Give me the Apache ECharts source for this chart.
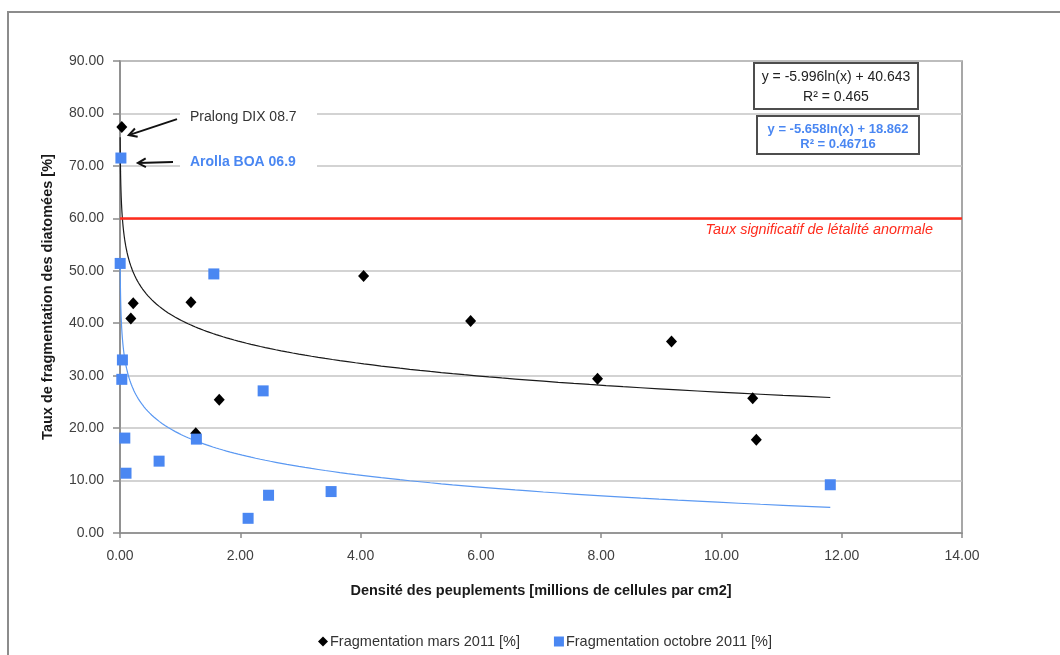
<!DOCTYPE html>
<html>
<head>
<meta charset="utf-8">
<script src="https://cdn.jsdelivr.net/npm/echarts@6/dist/echarts.min.js"></script>
<style>
  html, body { margin: 0; padding: 0; background: #ffffff; }
  #chart { width: 1060px; height: 655px; }
</style>
</head>
<body>
<div id="chart"></div>
<script>
// Fragmentation des diatomées vs densité des peuplements
const marsName = 'Fragmentation mars 2011 [%]';
const octName = 'Fragmentation octobre 2011 [%]';

// Mars 2011 (first point: Pralong DIX 08.7)
const marsX = [0.03, 0.18, 0.22, 1.18, 1.26, 1.65, 4.05, 5.83, 7.94, 9.17, 10.52, 10.58];
const marsY = [77.4, 40.9, 43.8, 44.0, 19.0, 25.4, 49.0, 40.4, 29.4, 36.5, 25.7, 17.8];

// Octobre 2011 (first point: Arolla BOA 06.9)
const octX = [0.015, 0.003, 1.56, 0.04, 0.03, 2.38, 0.08, 1.27, 0.65, 0.10, 2.47, 2.13, 3.51, 11.81];
const octY = [71.5, 51.4, 49.4, 33.0, 29.3, 27.1, 18.1, 17.9, 13.7, 11.4, 7.2, 2.8, 7.9, 9.2];

// Logarithmic fits y = a*ln(x) + b, as printed in the equation boxes
const marsFit = { a: -5.996, b: 40.643, r2: '0.465' };
const octFit = { a: -5.658, b: 18.862, r2: '0.46716' };

const threshold = 60;
const thresholdLabel = 'Taux significatif de létalité anormale';
const xTicks = [0, 2, 4, 6, 8, 10, 12, 14];
const yTicks = [0, 10, 20, 30, 40, 50, 60, 70, 80, 90];

const FONT = "'Liberation Sans', Arial, sans-serif";
const BLUE = '#4a87f2';

function fitCurve(fit, xs) {
  const lo = Math.min.apply(null, xs), hi = Math.max.apply(null, xs);
  const pts = [];
  const n = 240;
  for (let i = 0; i <= n; i++) {
    const x = Math.exp(Math.log(lo) + (Math.log(hi) - Math.log(lo)) * i / n);
    pts.push([x, fit.a * Math.log(x) + fit.b]);
  }
  return pts;
}
const allX = marsX.concat(octX);
const pair = (xs, ys) => xs.map((x, i) => [x, ys[i]]);

const chart = echarts.init(document.getElementById('chart'), null, { renderer: 'canvas' });

const option = {
  backgroundColor: '#ffffff',
  animation: false,
  textStyle: { fontFamily: FONT },
  grid: {
    left: 120, right: 98, top: 61, bottom: 122,
    show: true, borderColor: '#8a8a8a', borderWidth: 1.5, backgroundColor: 'transparent'
  },
  xAxis: {
    type: 'value', min: xTicks[0], max: xTicks[xTicks.length - 1], interval: 2,
    name: 'Densité des peuplements [millions de cellules par cm2]',
    nameLocation: 'middle', nameGap: 50,
    nameTextStyle: { fontFamily: FONT, fontSize: 14.5, fontWeight: 'bold', color: '#1a1a1a' },
    axisLine: { show: true, lineStyle: { color: '#8a8a8a', width: 1.5 } },
    axisTick: { show: true, length: 5, lineStyle: { color: '#8a8a8a', width: 1.5 } },
    axisLabel: { margin: 16, fontSize: 14, color: '#404040', fontFamily: FONT,
                 formatter: v => v.toFixed(2) },
    splitLine: { show: false }
  },
  yAxis: {
    type: 'value', min: yTicks[0], max: yTicks[yTicks.length - 1], interval: 10,
    name: 'Taux de fragmentation des diatomées [%]',
    nameLocation: 'middle', nameGap: 65,
    nameTextStyle: { fontFamily: FONT, fontSize: 14.5, fontWeight: 'bold', color: '#1a1a1a' },
    axisLine: { show: true, lineStyle: { color: '#8a8a8a', width: 1.5 } },
    axisTick: { show: true, length: 7, lineStyle: { color: '#8a8a8a', width: 1.5 } },
    axisLabel: { margin: 16, fontSize: 14, color: '#404040', fontFamily: FONT,
                 formatter: v => v.toFixed(2) },
    splitLine: { show: true, lineStyle: { color: '#c4c4c4', width: 1.5 } }
  },
  legend: {
    left: 313, top: 629,
    itemWidth: 10, itemHeight: 10, itemGap: 34,
    textStyle: { fontFamily: FONT, fontSize: 14.5, color: '#333333', padding: [0, 0, 0, -3] },
    data: [
      { name: marsName, icon: 'diamond', itemStyle: { color: '#000000', opacity: 1 } },
      { name: octName, icon: 'rect', itemStyle: { color: BLUE, opacity: 1 } }
    ]
  },
  series: [
    {
      name: 'Tendance mars', type: 'line', data: fitCurve(marsFit, allX),
      showSymbol: false, symbol: 'none', smooth: false, silent: true, z: 3,
      lineStyle: { color: '#1a1a1a', width: 1.2 }
    },
    {
      name: 'Tendance octobre', type: 'line', data: fitCurve(octFit, allX),
      showSymbol: false, symbol: 'none', smooth: false, silent: true, z: 3,
      lineStyle: { color: '#5a98f2', width: 1.2 }
    },
    {
      name: marsName, type: 'scatter', data: pair(marsX, marsY),
      symbol: 'diamond', symbolSize: [11, 12], z: 4,
      itemStyle: { color: '#000000', opacity: 1 },
      markLine: {
        silent: true, symbol: 'none', animation: false,
        label: { show: false },
        lineStyle: { color: '#ff2b1c', width: 2.5, type: 'solid' },
        data: [{ yAxis: threshold }]
      }
    },
    {
      name: octName, type: 'scatter', data: pair(octX, octY),
      symbol: 'rect', symbolSize: 11, z: 5,
      itemStyle: { color: BLUE, opacity: 1 }
    }
  ]
};
chart.setOption(option);

// Annotations: outer frame, pointer arrows, threshold caption, equation boxes
function arrow(from, to, color) {
  const ang = Math.atan2(to[1] - from[1], to[0] - from[0]);
  const len = 9, spread = 0.5;
  const p1 = [to[0] - len * Math.cos(ang - spread), to[1] - len * Math.sin(ang - spread)];
  const p2 = [to[0] - len * Math.cos(ang + spread), to[1] - len * Math.sin(ang + spread)];
  return [
    { type: 'line', shape: { x1: from[0], y1: from[1], x2: to[0], y2: to[1] },
      style: { stroke: color, lineWidth: 2 }, z: 20 },
    { type: 'polyline', shape: { points: [p1, to, p2] },
      style: { stroke: color, lineWidth: 2, fill: null }, z: 20 }
  ];
}

const pPralong = chart.convertToPixel({ gridIndex: 0 }, [marsX[0], marsY[0]]);
const pArolla = chart.convertToPixel({ gridIndex: 0 }, [octX[0], octY[0]]);
const yThr = chart.convertToPixel({ gridIndex: 0 }, [0, threshold])[1];

const graphics = [
  { type: 'rect', shape: { x: 8, y: 12, width: 1070, height: 680 },
    style: { stroke: '#8c8c8c', lineWidth: 2, fill: null }, z: 0, silent: true },

  // label backgrounds break the gridlines
  { type: 'rect', shape: { x: 180, y: pPralong[1] - 20, width: 137, height: 22 },
    style: { fill: '#ffffff' }, z: 10 },
  { type: 'rect', shape: { x: 180, y: pArolla[1] - 7, width: 137, height: 22 },
    style: { fill: '#ffffff' }, z: 10 },
  { type: 'text', x: 190, y: pPralong[1] - 10, z: 21,
    style: { text: 'Pralong DIX 08.7', font: '14px ' + FONT, fill: '#333333', verticalAlign: 'middle' } },
  { type: 'text', x: 190, y: pArolla[1] + 4, z: 21,
    style: { text: 'Arolla BOA 06.9', font: 'bold 14px ' + FONT, fill: BLUE, verticalAlign: 'middle' } },

  { type: 'text', x: 933, y: yThr + 12, z: 21,
    style: { text: thresholdLabel, font: 'italic 14.4px ' + FONT, fill: '#ff2b1c',
             align: 'right', verticalAlign: 'middle' } },

  { type: 'rect', shape: { x: 754, y: 63, width: 164, height: 46 },
    style: { fill: '#ffffff', stroke: '#4d4d4d', lineWidth: 2 }, z: 22 },
  { type: 'text', x: 836, y: 77, z: 23,
    style: { text: 'y = ' + marsFit.a.toFixed(3) + 'ln(x) + ' + marsFit.b.toFixed(3),
             font: '14px ' + FONT, fill: '#222222', align: 'center', verticalAlign: 'middle' } },
  { type: 'text', x: 836, y: 97, z: 23,
    style: { text: 'R² = ' + marsFit.r2, font: '14px ' + FONT, fill: '#222222',
             align: 'center', verticalAlign: 'middle' } },

  { type: 'rect', shape: { x: 757, y: 116, width: 162, height: 38 },
    style: { fill: '#ffffff', stroke: '#4d4d4d', lineWidth: 2 }, z: 22 },
  { type: 'text', x: 838, y: 129, z: 23,
    style: { text: 'y = ' + octFit.a.toFixed(3) + 'ln(x) + ' + octFit.b.toFixed(3),
             font: 'bold 13px ' + FONT, fill: BLUE, align: 'center', verticalAlign: 'middle' } },
  { type: 'text', x: 838, y: 144, z: 23,
    style: { text: 'R² = ' + octFit.r2, font: 'bold 13px ' + FONT, fill: BLUE,
             align: 'center', verticalAlign: 'middle' } }
]
  .concat(arrow([177, pPralong[1] - 8], [pPralong[0] + 7, pPralong[1] + 8], '#111111'))
  .concat(arrow([173, pArolla[1] + 4], [pArolla[0] + 17, pArolla[1] + 5], '#111111'));

chart.setOption({ graphic: graphics });
</script>
</body>
</html>
